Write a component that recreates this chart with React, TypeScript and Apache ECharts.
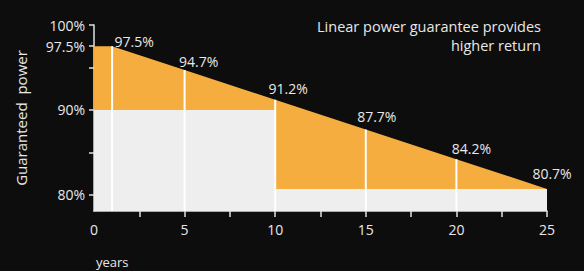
import React, { useEffect, useRef } from "react";
import * as echarts from "echarts";

// ---- data ----
const years = [0, 1, 5, 10, 15, 20, 25];
const guaranteed = [97.5, 97.5, 94.7, 91.2, 87.7, 84.2, 80.7];
const stepYears = [0, 10, 10, 25];
const stepValues = [90, 90, 80.7, 80.7];
const markerYears = [1, 5, 10, 15, 20];
const labelYears = [1, 5, 10, 15, 20, 25];
const yTickValues = [80, 85, 90, 95, 97.5, 100];
const yLabelValues = [80, 90, 97.5, 100];
const xTickValues = [2.5, 5, 7.5, 10, 12.5, 15, 17.5, 20, 22.5, 25];
const xLabelValues = [0, 5, 10, 15, 20, 25];
const titleLines = ["Linear power guarantee provides", "higher return"];

// ---- styles ----
const Y_MIN = 78.1;
const Y_MAX = 100;
const labelOffsets = [
  [22, -5],
  [14, -9],
  [13, -11],
  [11, -13],
  [15, -11],
  [5, -15],
];
const FONT = "'Open Sans', 'Noto Sans', sans-serif";
const TXT = "#e8e8e8";
const ORANGE = "#F5AD3F";
const GRAY = "#EEEEEE";

const valueAt = (y: number) => guaranteed[years.indexOf(y)];

export default function App() {
  const ref = useRef<HTMLDivElement>(null);
  useEffect(() => {
    if (!ref.current) return;
    const chart = echarts.init(ref.current, null, { renderer: "svg" });
    chart.setOption({
      animation: false,
      backgroundColor: "#0d0d0d",
      textStyle: { fontFamily: FONT },
      grid: { left: 94, right: 37, top: 25, bottom: 60 },
      xAxis: {
        type: "value",
        min: 0,
        max: 25,
        axisLine: { show: true, lineStyle: { color: "#e0e0e0", width: 1.5 } },
        axisTick: {
          show: true,
          customValues: xTickValues,
          length: 6,
          lineStyle: { color: "#e0e0e0", width: 1.5 },
        },
        axisLabel: {
          customValues: xLabelValues,
          color: TXT,
          fontSize: 14,
          fontFamily: FONT,
          margin: 11,
        },
        splitLine: { show: false },
      },
      yAxis: {
        type: "value",
        min: Y_MIN,
        max: Y_MAX,
        name: "Guaranteed  power",
        nameLocation: "middle",
        nameGap: 66,
        nameTextStyle: { color: TXT, fontSize: 15, fontFamily: FONT },
        axisLine: { show: true, lineStyle: { color: "#e0e0e0", width: 1.5 } },
        axisTick: {
          show: true,
          customValues: yTickValues,
          length: 5,
          lineStyle: { color: "#e0e0e0", width: 1.5 },
        },
        axisLabel: {
          customValues: yLabelValues,
          color: TXT,
          fontSize: 14,
          fontFamily: FONT,
          margin: 9,
          formatter: (v: number) => v + "%",
        },
        splitLine: { show: false },
      },
      graphic: [
        {
          type: "text",
          right: 43,
          top: 17,
          style: {
            text: titleLines.join("\n"),
            fill: TXT,
            font: `14.5px ${FONT}`,
            textAlign: "right",
            lineHeight: 19,
          },
        },
        {
          type: "text",
          left: 96,
          top: 255,
          style: { text: "years", fill: TXT, font: `13px ${FONT}` },
        },
      ],
      series: [
        {
          type: "line",
          data: years.map((y, i) => [y, guaranteed[i]]),
          symbol: "none",
          lineStyle: { width: 0 },
          areaStyle: { color: ORANGE, opacity: 1, origin: "start" },
          z: 1,
        },
        {
          type: "line",
          data: stepYears.map((y, i) => [y, stepValues[i]]),
          symbol: "none",
          lineStyle: { width: 0 },
          areaStyle: { color: GRAY, opacity: 1, origin: "start" },
          z: 2,
        },
        {
          type: "custom",
          data: markerYears.map((y) => [y, valueAt(y)]),
          z: 3,
          renderItem: (params: any, api: any) => {
            const x = api.value(0);
            const v = api.value(1);
            const top = api.coord([x, v]);
            const bottom = api.coord([x, Y_MIN]);
            return {
              type: "line",
              shape: { x1: top[0], y1: top[1], x2: bottom[0], y2: bottom[1] },
              style: { stroke: "#ffffff", lineWidth: 2 },
            };
          },
        },
        {
          type: "scatter",
          symbolSize: 0,
          itemStyle: { color: ORANGE, opacity: 1 },
          z: 4,
          data: labelYears.map((y, i) => ({
            value: [y, valueAt(y)],
            label: { offset: labelOffsets[i] },
          })),
          label: {
            show: true,
            position: "inside",
            color: TXT,
            opacity: 1,
            textBorderWidth: 0,
            fontSize: 14,
            fontFamily: FONT,
            formatter: (p: any) => p.value[1] + "%",
          },
        },
      ],
    });
    return () => chart.dispose();
  }, []);
  return (
    <div
      ref={ref}
      style={{ position: "fixed", left: 0, top: 0, width: 584, height: 271 }}
    />
  );
}
